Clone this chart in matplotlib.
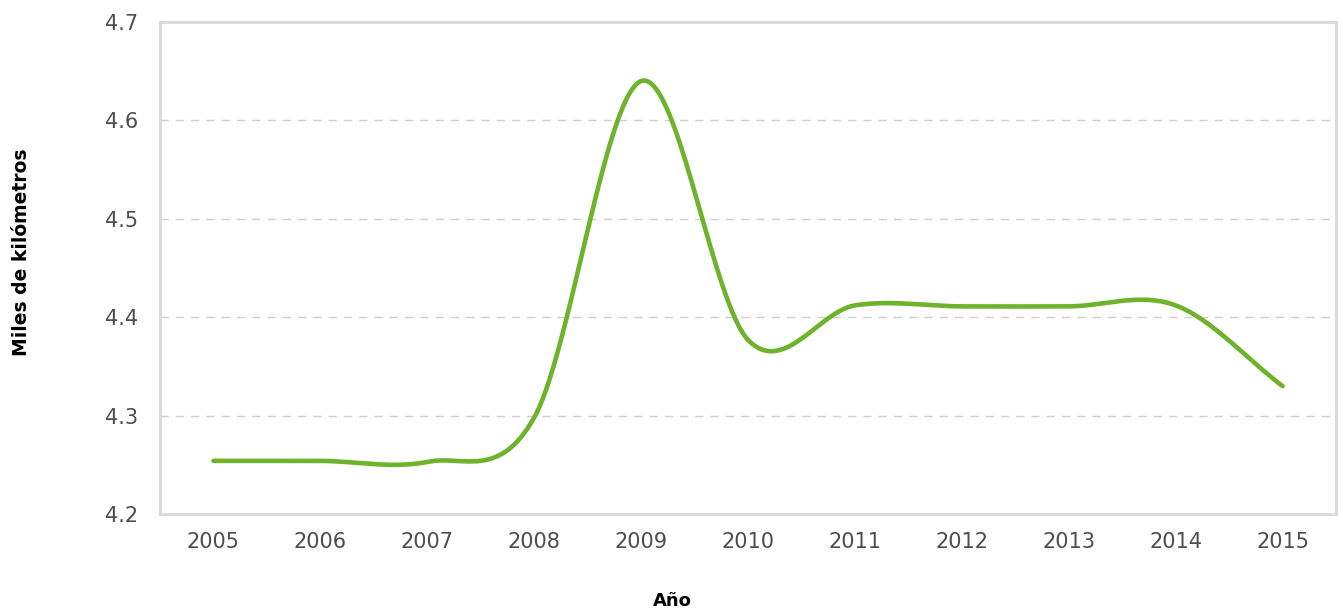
import numpy as np
import matplotlib
matplotlib.use("Agg")
import matplotlib.pyplot as plt

# --- Data ---
years = [2005, 2006, 2007, 2008, 2009, 2010, 2011, 2012, 2013, 2014, 2015]
km_miles = [4.254, 4.254, 4.253, 4.298, 4.640, 4.377, 4.412, 4.411, 4.411, 4.412, 4.330]
y_ticks = [4.2, 4.3, 4.4, 4.5, 4.6, 4.7]


# --- Smooth line through the points (Catmull-Rom style) ---
def smooth_line(x, y, n=60):
    x = np.asarray(x, dtype=float)
    y = np.asarray(y, dtype=float)
    m = np.zeros_like(y)
    m[1:-1] = (y[2:] - y[:-2]) / (x[2:] - x[:-2])
    m[0] = (y[1] - y[0]) / (x[1] - x[0])
    m[-1] = (y[-1] - y[-2]) / (x[-1] - x[-2])
    xs, ys = [], []
    for i in range(len(x) - 1):
        h = x[i + 1] - x[i]
        t = np.linspace(0, 1, n, endpoint=False)
        h00 = 2 * t**3 - 3 * t**2 + 1
        h10 = t**3 - 2 * t**2 + t
        h01 = -2 * t**3 + 3 * t**2
        h11 = t**3 - t**2
        xs.append(x[i] + t * h)
        ys.append(h00 * y[i] + h10 * h * m[i] + h01 * y[i + 1] + h11 * h * m[i + 1])
    xs.append([x[-1]])
    ys.append([y[-1]])
    return np.concatenate(xs), np.concatenate(ys)


xs, ys = smooth_line(years, km_miles)

fig = plt.figure(figsize=(13.43, 6.11), dpi=100)
ax = fig.add_axes([160 / 1343, 1 - 514 / 611, (1336 - 160) / 1343, (514 - 22) / 611])

ax.plot(xs, ys, color="#6db32c", linewidth=3.3, solid_capstyle="round", zorder=3)

ax.set_xlim(2004.5, 2015.5)
ax.set_ylim(4.2, 4.7)
ax.set_xticks(years)
ax.set_xticklabels([str(y) for y in years])
ax.set_yticks(y_ticks)
ax.set_yticklabels([f"{v:.1f}" for v in y_ticks])

# --- Grid and frame ---
for v in y_ticks[1:-1]:
    ax.axhline(v, color="#cfcfcf", linewidth=1.0, linestyle=(0, (6, 5)), zorder=1)
for side in ax.spines.values():
    side.set_color("#d9d9d9")
    side.set_linewidth(2)

ax.tick_params(axis="both", length=0, labelsize=15, labelcolor="#4d4d4d")
ax.tick_params(axis="x", pad=13)
ax.tick_params(axis="y", pad=16)

# --- Axis titles ---
fig.text(22 / 1343, 1 - 252 / 611, "Miles de kilómetros", rotation=90,
         fontsize=13.5, fontweight="bold", color="black", ha="center", va="center")
fig.text(672 / 1343, 1 - 601 / 611, "Año", fontsize=13, fontweight="bold",
         color="black", ha="center", va="center")

fig.savefig("out.png", dpi=100)
